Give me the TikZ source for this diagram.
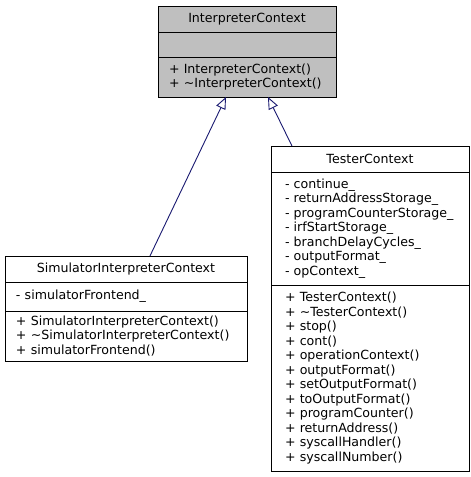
\documentclass[tikz,border=0pt]{standalone}
\usepackage{fontspec}
\setmainfont{DejaVu Sans}
\usetikzlibrary{positioning,calc,arrows.meta}
\definecolor{basegray}{rgb}{0.75,0.75,0.75}
\definecolor{edgeblue}{rgb}{0.1,0.1,0.44}
\tikzset{
  classtitle/.style={draw, outer sep=0pt, line width=0.9pt, minimum height=26pt, anchor=north, inner sep=0pt},
  classpart/.style={draw, outer sep=0pt, line width=0.9pt, align=left, inner ysep=0pt, execute at begin node={\hyphenpenalty=10000}},
  inherit/.style={edgeblue, line width=0.9pt, -{Triangle[open, length=12pt, width=10pt]}}
}
\begin{document}
\begin{tikzpicture}[x=1pt, y=1pt, font=\fontsize{12.6}{14.5}\selectfont]
\useasboundingbox (0,0) rectangle (471,-477);
\node [classtitle, fill=basegray, minimum width=178pt] (ic) at (247,-6) {InterpreterContext};
\node [classpart, fill=basegray, inner xsep=11pt, text width=156pt, minimum height=25pt, below=0pt of ic] (icattr) {};
\node [classpart, fill=basegray, inner xsep=11pt, text width=156pt, minimum height=40pt, below=0pt of icattr] (icmeth) {+ InterpreterContext()\\+ \textasciitilde InterpreterContext()};

\node [classtitle, minimum width=242pt] (sim) at (126,-256) {SimulatorInterpreterContext};
\node [classpart, inner xsep=11pt, text width=220pt, minimum height=29pt, below=0pt of sim] (simattr) {- simulatorFrontend\_};
\node [classpart, inner xsep=11pt, text width=220pt, minimum height=50pt, below=0pt of simattr] (simmeth) {+ SimulatorInterpreterContext()\\+ \textasciitilde SimulatorInterpreterContext()\\+ simulatorFrontend()};

\node [classtitle, minimum width=198pt] (tc) at (370,-146) {TesterContext};
\node [classpart, inner xsep=14pt, text width=170pt, minimum height=113pt, below=0pt of tc] (tcattr) {- continue\_\\- returnAddressStorage\_\\- programCounterStorage\_\\- irfStartStorage\_\\- branchDelayCycles\_\\- outputFormat\_\\- opContext\_};
\node [classpart, inner xsep=14pt, text width=170pt, minimum height=186pt, below=0pt of tcattr] (tcmeth) {+ TesterContext()\\+ \textasciitilde TesterContext()\\+ stop()\\+ cont()\\+ operationContext()\\+ outputFormat()\\+ setOutputFormat()\\+ toOutputFormat()\\+ programCounter()\\+ returnAddress()\\+ syscallHandler()\\+ syscallNumber()};

\coordinate (simtop) at ($(sim.north west)!0.599!(sim.north east)$);
\coordinate (tctop) at ($(tc.north west)!0.106!(tc.north east)$);
\coordinate (icleft) at ($(icmeth.south west)!0.382!(icmeth.south east)$);
\coordinate (icright) at ($(icmeth.south west)!0.618!(icmeth.south east)$);
\draw [inherit] (simtop) -- (icleft);
\draw [inherit] (tctop) -- (icright);
\end{tikzpicture}
\end{document}
